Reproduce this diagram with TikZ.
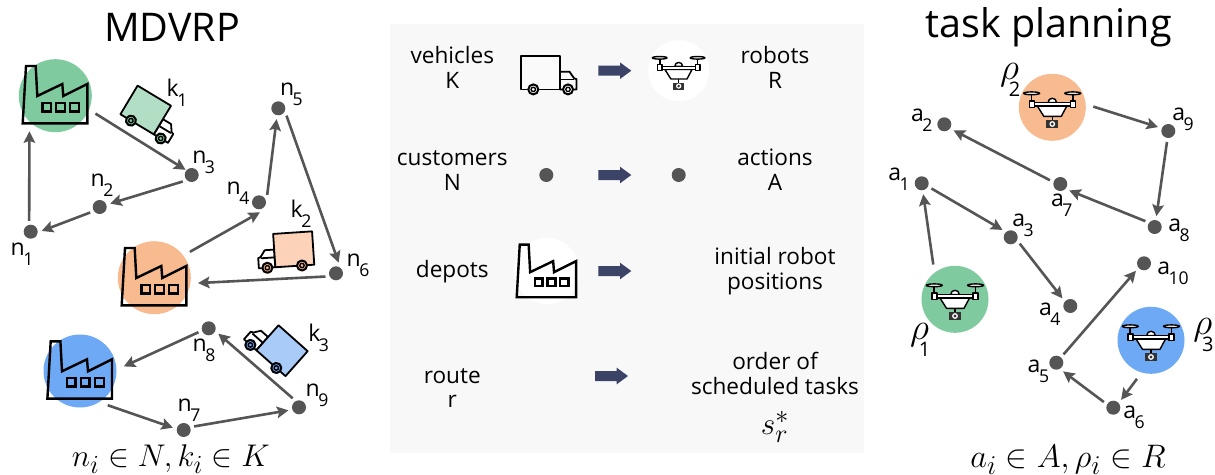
\documentclass[tikz,border=0pt]{standalone}
\usepackage{fontspec}
\setmainfont{Open Sans}
\usetikzlibrary{arrows.meta}
\definecolor{gc}{HTML}{7FCB9F}
\definecolor{oc}{HTML}{F8BA8F}
\definecolor{bc}{HTML}{6EA9F5}
\definecolor{gl}{HTML}{B1DEC4}
\definecolor{ol}{HTML}{FCD3B9}
\definecolor{bl}{HTML}{A9CBF8}
\definecolor{dotc}{HTML}{555555}
\definecolor{panel}{HTML}{F8F8F8}
\definecolor{bigarr}{HTML}{3B4466}
\tikzset{
  dot/.style={circle,fill=dotc,minimum size=14pt,inner sep=0pt,outer sep=4pt},
  hub/.style={circle,fill=#1,minimum size=73pt,inner sep=0pt,outer sep=7.5pt},
  backing/.style={circle,fill=white,minimum size=#1,inner sep=0pt},
  link/.style={draw=dotc,line width=2.6pt,-{Stealth[length=11.5pt,width=11.5pt,inset=2pt]}},
  lab/.style={inner sep=0pt,outer sep=0pt,anchor=base west,font=\fontsize{23}{23}\selectfont},
  body/.style={inner sep=0pt,outer sep=0pt,anchor=base,align=center,font=\fontsize{22.6}{24.4}\selectfont},
  head/.style={inner sep=0pt,anchor=center,font=\fontsize{39.5}{39.5}\selectfont},
  mathlab/.style={inner sep=0pt,anchor=center,font=\fontsize{24.88}{26}\selectfont},
}
\newcommand{\sublab}[2]{#1\kern-1.5pt\raisebox{-10pt}{\fontsize{17.6}{17.6}\selectfont #2}}
\newcommand{\rholab}[1]{\scalebox{1.5}{\fontsize{24.88}{26}\selectfont$\rho$}\kern-10pt\raisebox{-17pt}{\fontsize{20}{20}\selectfont #1}}
\newcommand{\factoryicon}[3]{%
  \begin{scope}[shift={(#1,#2)},scale=#3,line width=2.4pt,draw=black,line join=miter]
    \draw (-29.3,-29.7) -- (-19.6,-29.7) -- (-18,0.3) -- (7,-11.7) -- (8,0.3) -- (32,-11.7) -- (32,27.6) -- (-32.6,27.6) -- cycle;
    \draw (-13,7) rectangle (-4.6,15.6);
    \draw (0.7,7) rectangle (9.4,15.6);
    \draw (14.7,7) rectangle (23.7,15.6);
  \end{scope}}
\newcommand{\truckicon}[4]{% transform options, box fill, wheel fill, cab fill
  \begin{scope}[#1,line width=1.8pt,draw=black,line join=round]
    \draw[fill=#4] (19.5,-1) -- (29,-1) -- (33.5,5.5) -- (36,6.5) -- (36,16.7) -- (19.5,16.7) -- cycle;
    \draw (19.5,6.8) -- (33.5,6.8);
    \draw[fill=#2] (-19.5,-16.7) rectangle (19.5,16.7);
    \foreach \wx in {-7.2,27.5} {
      \fill[#3] (\wx,16.7) circle[radius=5.8pt];
      \draw[line width=2pt] (\wx,16.7) circle[radius=5pt];
      \draw[line width=1.4pt] (\wx,16.7) circle[radius=2.2pt];
    }
  \end{scope}}
\newcommand{\droneicon}[3]{%
  \begin{scope}[shift={(#1,#2)},scale=#3,line width=1.4pt,draw=black,line join=round]
    \draw[fill=white] (-4.3,-4.7) .. controls (-4.3,-10.4) and (4.3,-10.4) .. (4.3,-4.7) -- cycle;
    \draw[line width=1.7pt] (-20.7,-14) -- (-20.7,-4);
    \draw[line width=1.7pt] (20.5,-14) -- (20.5,-4);
    \draw[fill=white] (-20.7,-14) ellipse[x radius=8pt,y radius=1.4pt];
    \draw[fill=white] (20.5,-14) ellipse[x radius=8pt,y radius=1.4pt];
    \draw[fill=white] (-15,-1.3) -- (14.5,-1.3) -- (9,9) -- (-8.5,9) -- cycle;
    \draw[fill=white] (-19,-4.7) rectangle (19,-1.3);
    \draw[fill=white] (-23,-6.5) rectangle (-18,0);
    \draw[fill=white] (18,-6.5) rectangle (23,0);
    \draw (0,9) -- (0,13);
    \fill[black!80] (-6,13) rectangle (6,20.5);
    \fill[white] (0,16.7) circle[radius=2.9pt];
    \fill[black!80] (0,16.7) circle[radius=1.6pt];
  \end{scope}}
\newcommand{\bigarrow}[2]{%
  \fill[bigarr,shift={(#1,#2)}] (0,-5) -- (21.7,-5) -- (21.7,-8.3) -- (33,0) -- (21.7,8.3) -- (21.7,5) -- (0,5) -- cycle;}
\begin{document}
\begin{tikzpicture}[x=1pt,y=-1pt]
\useasboundingbox (0,0) rectangle (1215,474);
\fill[panel] (390,24) rectangle (864,453);

% titles
\node[head] (tl) at (172,27) {MDVRP};
\node[head] (tr) at (1048.7,27) {task planning};

% depots
\node[hub=gc] (d1) at (55.3,95.7) {};
\node[hub=oc] (d2) at (154.3,277.7) {};
\node[hub=bc] (d3) at (80,371) {};
\factoryicon{55.3}{95.7}{1}
\factoryicon{154.3}{277.7}{1}
\factoryicon{80}{371}{1}

% customers
\node[dot] (n1) at (30.7,231.7) {};
\node[dot] (n2) at (99.7,207) {};
\node[dot] (n3) at (191.7,175) {};
\node[dot] (n4) at (259,202.3) {};
\node[dot] (n5) at (278.3,108.3) {};
\node[dot] (n6) at (336,273.3) {};
\node[dot] (n7) at (183.7,430) {};
\node[dot] (n8) at (208.7,328.3) {};
\node[dot] (n9) at (299,407.3) {};

\draw[link] (n1.98.5) -- (d1.234.7);
\draw[link,shorten >=-3pt] (d1.-24.4) -- (n3.142.4);
\draw[link] (n3.216.7) -- (n2.18);
\draw[link] (n2.210.5) -- (n1.4.5);
\draw[link,shorten >=-2pt] (d2.36.3) -- (n4.-94);
\draw[link] (n4.42.6) -- (n5.-99);
\draw[link] (n5.-42) -- (n6.76);
\draw[link] (n6.197) -- (d2.-7);
\draw[link] (d3.-51.2) -- (n7.168);
\draw[link] (n7.19) -- (n9.196.7);
\draw[link] (n9.125) -- (n8.-29);
\draw[link] (n8.201) -- (d3.6.5);

% trucks
\truckicon{shift={(145.7,110)},rotate=-31}{gl}{gc}{white}
\truckicon{shift={(293.7,249.3)},rotate=3.8,xscale=-1}{ol}{oc}{white}
\truckicon{shift={(282,350.7)},rotate=-41.6,xscale=-1}{bl}{bc}{white}

% left labels
\node[lab] (ln1) at (10.7,255) {\sublab{n}{1}};
\node[lab] (ln2) at (90.7,186.7) {\sublab{n}{2}};
\node[lab] (ln3) at (192.3,163.3) {\sublab{n}{3}};
\node[lab] (ln4) at (226.7,194) {\sublab{n}{4}};
\node[lab] (ln5) at (280,95) {\sublab{n}{5}};
\node[lab] (ln6) at (346.7,266) {\sublab{n}{6}};
\node[lab] (ln7) at (177.7,411) {\sublab{n}{7}};
\node[lab] (ln8) at (192.7,351.7) {\sublab{n}{8}};
\node[lab] (ln9) at (305.7,396.7) {\sublab{n}{9}};
\node[lab] (lk1) at (166.7,96.7) {\sublab{k}{1}};
\node[lab] (lk2) at (290.7,217.3) {\sublab{k}{2}};
\node[lab] (lk3) at (308.3,341.7) {\sublab{k}{3}};
\node[mathlab] (ml) at (170.8,459) {\scalebox{1.26}{$n_i \in N, k_i \in K$}};

% panel: row 1
\node[body] (p1l) at (452.3,88.3) {vehicles\\K};
\truckicon{shift={(540.5,72.7)}}{white!30!panel}{white}{panel}
\bigarrow{598.3}{70.7}
\node[backing=61pt] (p1c) at (678.7,70.7) {};
\droneicon{678.7}{70.7}{0.92}
\node[body] (p1r) at (775,88.3) {robots\\R};
% row 2
\node[body] (p2l) at (452.3,190) {customers\\N};
\node[dot] (p2a) at (546.3,175) {};
\bigarrow{598.3}{175}
\node[dot] (p2b) at (678.7,175) {};
\node[body] (p2r) at (775,190) {actions\\A};
% row 3
\node[body] (p3l) at (452.3,277.7) {depots};
\node[backing=66pt] (p3c) at (546.7,271) {};
\factoryicon{546.7}{271.9}{0.92}
\bigarrow{598.3}{271}
\node[body] (p3r) at (775,289.3) {initial robot\\positions};
% row 4
\node[body] (p4l) at (452.3,407.7) {route\\r};
\bigarrow{595}{376}
\node[body] (p4r) at (775,394) {order of\\scheduled tasks};
\node[mathlab] (p4m) at (775,426.7) {\scalebox{1.26}{$s_r^*$}};

% right graph
\node[hub=gc,minimum size=67pt] (r1) at (955,299.3) {};
\node[hub=oc,minimum size=67pt] (r2) at (1052.3,107.3) {};
\node[hub=bc,minimum size=67pt] (r3) at (1151,340.3) {};
\droneicon{955}{299.3}{1}
\droneicon{1052.3}{107.3}{1}
\droneicon{1151}{340.3}{1}

\node[dot] (a1) at (921.7,183.3) {};
\node[dot] (a2) at (944.3,124.3) {};
\node[dot] (a3) at (1010.7,237.3) {};
\node[dot] (a4) at (1070.3,306) {};
\node[dot] (a5) at (1056.3,362.7) {};
\node[dot] (a6) at (1113.3,407.7) {};
\node[dot] (a7) at (1060.3,184) {};
\node[dot] (a8) at (1154.7,227) {};
\node[dot] (a9) at (1168.3,131) {};
\node[dot] (a10) at (1144,263.3) {};

\draw[link] (r1.122.5) -- (a1.-82);
\draw[link] (a1.-28.6) -- (a3.138);
\draw[link] (a3.-35) -- (a4.136);
\draw[link] (r3.250) -- (a6.45);
\draw[link] (a6.149) -- (a5.-52.4);
\draw[link] (a5.49) -- (a10.223);
\draw[link] (r2.1.8) -- (a9.159);
\draw[link] (a9.263) -- (a8.81);
\draw[link] (a8.148.5) -- (a7.-36.7);
\draw[link] (a7.160.5) -- (a2.-33);

\node[lab] (la1) at (888.3,180) {\sublab{a}{1}};
\node[lab] (la2) at (911,121.7) {\sublab{a}{2}};
\node[lab] (la3) at (1012.3,226.7) {\sublab{a}{3}};
\node[lab] (la4) at (1039,315) {\sublab{a}{4}};
\node[lab] (la5) at (1027.7,372.7) {\sublab{a}{5}};
\node[lab] (la6) at (1123.3,418.3) {\sublab{a}{6}};
\node[lab] (la7) at (1051,206) {\sublab{a}{7}};
\node[lab] (la8) at (1168.3,231.7) {\sublab{a}{8}};
\node[lab] (la9) at (1172.3,120.7) {\sublab{a}{9}};
\node[lab] (la10) at (1157.3,274.3) {\sublab{a}{10}};

\node[lab] (rho1) at (910,339) {\rholab{1}};
\node[lab] (rho2) at (1000,79) {\rholab{2}};
\node[lab] (rho3) at (1193.3,334.5) {\rholab{3}};

\node[mathlab] (mr) at (1068,460) {\scalebox{1.31}{$a_i \in A, \rho_i \in R$}};
\end{tikzpicture}
\end{document}
